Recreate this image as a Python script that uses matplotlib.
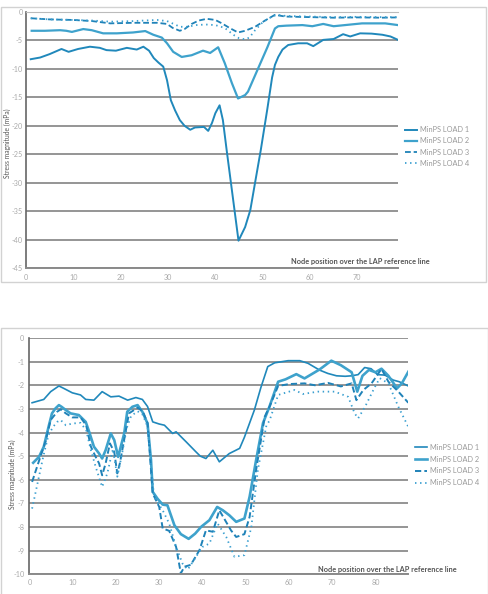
import matplotlib
matplotlib.use("Agg")
import matplotlib.pyplot as plt
from matplotlib.patches import Rectangle

plt.rcParams['font.family'] = ['Lato', 'DejaVu Sans']

labels = ["MinPS LOAD 1", "MinPS LOAD 2", "MinPS LOAD 3", "MinPS LOAD 4"]

# ---------------- top chart data ----------------
t1_x = [1, 3, 5, 7.5, 9, 11, 13.5, 15.6, 17, 19, 21.3, 23.4, 24.8, 26, 27, 28, 29, 29.8, 30.6, 31.5,
        32.5, 33.5, 34.7, 35.7, 37.6, 38.5, 39.3, 40, 40.9, 41.6, 42.4, 44.9, 46.3, 47.4, 48.4, 49.6,
        51, 52, 52.6, 53.3, 54.2, 55.4, 57.5, 59.4, 60.7, 62.8, 65, 67, 68.5, 70.6, 73, 75.3, 77, 78.6]
t1_y = [-8.3, -8.0, -7.4, -6.5, -7.0, -6.5, -6.1, -6.3, -6.7, -6.8, -6.3, -6.6, -6.1, -6.8, -8.1, -8.9,
        -9.6, -12.0, -15.5, -17.3, -19.0, -20.0, -20.7, -20.3, -20.2, -20.9, -19.5, -17.8, -16.4, -19.0,
        -24.3, -40.2, -37.8, -34.8, -30.0, -24.3, -17.0, -11.5, -9.3, -7.9, -6.6, -5.8, -5.5, -5.5, -6.0,
        -4.9, -4.75, -3.9, -4.3, -3.75, -3.8, -4.0, -4.3, -4.9]

t2_x = [1.2, 4, 7.2, 8.5, 9.7, 12.1, 13.9, 16.3, 19.2, 22.6, 25.2, 26.9, 28.7, 29.8, 31.1, 32.9, 35,
        37.4, 38.9, 40.6, 42, 43.5, 44.8, 46.3, 46.9, 49, 51, 52.6, 53.3, 55, 58.4, 60.5, 62.8, 65,
        67.4, 71, 75.9, 78.6]
t2_y = [-3.3, -3.3, -3.2, -3.3, -3.5, -3.0, -3.2, -3.75, -3.75, -3.6, -3.35, -4.0, -4.5, -5.5, -7.0,
        -7.9, -7.6, -6.8, -7.2, -6.2, -9.0, -12.5, -15.2, -14.6, -14.0, -10.0, -6.2, -2.9, -2.5, -2.4,
        -2.3, -2.5, -2.1, -2.5, -2.3, -2.0, -2.0, -2.3]

t3_x = [1, 5, 10, 14, 17.8, 22.6, 27.7, 29.8, 31, 32.5, 33.5, 35, 36.5, 38.2, 40, 41.4, 43, 44.8, 46.3,
        48.4, 50.5, 52.6, 54.8, 60, 65, 70, 75, 78.6]
t3_y = [-1.1, -1.3, -1.4, -1.6, -2.0, -1.9, -1.9, -2.1, -2.8, -3.3, -3.0, -2.1, -1.5, -1.2, -1.4, -2.0,
        -2.8, -3.6, -3.3, -2.6, -1.5, -0.5, -0.8, -0.9, -1.0, -0.95, -1.0, -0.95]

t4_x = [1, 5, 10, 14, 17.8, 22.6, 25, 27.7, 29.8, 31.5, 32.5, 34, 36, 38, 40, 42, 43.8, 45, 46.3, 47.2,
        48.4, 50, 52, 53, 55, 60, 65, 70, 75, 78.6]
t4_y = [-1.1, -1.3, -1.4, -1.5, -1.7, -1.6, -1.5, -1.4, -1.6, -2.2, -2.6, -2.6, -2.3, -2.2, -2.3, -2.8,
        -4.0, -4.6, -4.8, -4.5, -3.2, -1.8, -0.8, -0.5, -0.7, -0.8, -0.9, -0.85, -0.9, -0.9]

# ---------------- bottom chart data ----------------
b1_x = [0.6, 3.3, 4.9, 6.8, 7.9, 9.9, 11.8, 13, 14.9, 16.8, 18.8, 20.7, 22.7, 24.6, 26.1, 27.3, 28.5,
        30, 31.2, 33.1, 33.9, 36.2, 38.5, 39.5, 40.8, 42.4, 43.9, 46.2, 48.6, 49.7, 52.0, 53.5, 55.1,
        56.7, 59.8, 62.5, 64.4, 67.1, 69, 71, 73, 74.5, 76, 77.5, 79, 80.5, 82.2, 84.1, 85.5, 87.6]
b1_y = [-2.74, -2.6, -2.27, -2.03, -2.13, -2.32, -2.41, -2.6, -2.63, -2.27, -2.49, -2.46, -2.63, -2.52,
        -2.6, -2.9, -3.55, -3.64, -3.69, -4.04, -3.97, -4.39, -4.82, -5.0, -5.1, -4.75, -5.24, -4.89,
        -4.67, -4.2, -3.05, -2.1, -1.21, -1.05, -0.96, -0.96, -1.07, -1.36, -1.5, -1.6, -1.62, -1.6,
        -1.55, -1.25, -1.3, -1.55, -1.57, -1.78, -1.85, -2.03]

b2_x = [0.85, 2.2, 3.3, 4.5, 5.2, 6.0, 6.8, 7.4, 8.4, 9.5, 11.4, 13, 13.8, 14.9, 16.1, 16.8, 17.6,
        18.8, 19.6, 20.5, 21.9, 22.6, 23.8, 25, 26.1, 27.3, 28.1, 28.5, 29.6, 30.8, 31.9, 33.5, 35,
        36.8, 38.3, 39.7, 41.6, 43.4, 44.7, 46.2, 47.8, 49.7, 50.9, 52.4, 54, 55.5, 57.5, 59.2, 61.7,
        63.6, 67.1, 69.8, 72, 74.5, 75.8, 77, 78.5, 80, 81.4, 83, 85, 86.1, 87.6]
b2_y = [-5.28, -5.03, -4.6, -3.69, -3.19, -2.98, -2.84, -2.91, -3.05, -3.19, -3.26, -3.55, -3.97, -4.6,
        -4.89, -5.1, -4.75, -4.04, -4.32, -5.03, -4.04, -3.12, -2.91, -2.84, -3.12, -3.62, -5.17, -6.51,
        -6.8, -7.05, -7.08, -7.92, -8.3, -8.5, -8.28, -7.99, -7.71, -7.15, -7.29, -7.5, -7.78, -7.64,
        -6.72, -5.17, -3.6, -2.9, -1.85, -1.75, -1.53, -1.71, -1.33, -0.96, -1.15, -1.45, -2.27, -1.6,
        -1.35, -1.45, -1.3, -1.6, -2.13, -1.92, -1.43]

b3_x = [0.6, 2.0, 3.7, 4.9, 6.4, 7.2, 8.4, 9.9, 11.8, 13.1, 14.2, 15.3, 16.1, 16.8, 17.6, 18.6, 19.6,
        20.3, 20.9, 22.0, 23.0, 25.0, 26.2, 27.3, 28.5, 30.0, 30.8, 32.3, 33.9, 35.0, 35.8, 37.3, 39.3,
        40.8, 42.4, 43.9, 46.6, 47.8, 49.7, 50.9, 52.4, 54.4, 55.5, 57.5, 60, 63.6, 66, 69, 72, 74.5,
        75.6, 77.2, 79.1, 81.4, 83, 85.3, 87.6]
b3_y = [-6.09, -5.31, -4.39, -3.47, -3.12, -3.02, -3.19, -3.36, -3.36, -3.69, -4.6, -5.03, -5.31, -5.81,
        -5.31, -4.46, -4.82, -5.73, -5.3, -4.2, -3.19, -2.95, -3.1, -3.6, -6.58, -7.15, -8.06, -8.16,
        -8.84, -9.96, -9.68, -9.6, -8.98, -8.14, -8.2, -7.29, -8.14, -8.42, -8.3, -7.57, -5.59, -3.33,
        -2.91, -2.03, -1.95, -1.92, -2.0, -1.9, -2.05, -1.92, -2.63, -2.2, -1.92, -1.31, -1.85, -2.27,
        -2.74]

b4_x = [0.6, 1.8, 3.2, 4.4, 5.5, 6.4, 7.2, 8.4, 9.9, 11.8, 13.1, 14.2, 15.3, 16.8, 18.0, 18.8, 19.3,
        20.3, 21.3, 22.5, 23.5, 25.0, 26.2, 27.3, 28.8, 30.8, 32.3, 33.9, 35.4, 36.6, 38.5, 40.0, 41.6,
        43.5, 45.5, 47.4, 49.7, 51.3, 52.8, 54.8, 55.5, 57.5, 61.3, 63.2, 66.7, 70.6, 73.7, 75.2, 76.0,
        77.6, 79.9, 81.0, 83.0, 85.3, 87.6]
b4_y = [-7.22, -6.2, -5.0, -4.1, -3.75, -3.55, -3.47, -3.69, -3.62, -3.59, -3.9, -4.75, -5.45, -6.3,
        -5.73, -5.08, -4.7, -5.87, -5.0, -3.8, -3.3, -3.1, -3.25, -3.75, -6.72, -7.29, -7.85, -8.84,
        -9.55, -9.8, -9.26, -8.84, -8.7, -7.85, -8.42, -9.26, -9.19, -8.0, -5.59, -3.69, -3.5, -2.41,
        -2.2, -2.37, -2.27, -2.27, -2.49, -3.19, -3.4, -2.91, -2.06, -1.7, -1.92, -2.91, -3.76]

top_yticks = [0, -5, -10, -15, -20, -25, -30, -35, -40, -45]
top_xticks = [0, 10, 20, 30, 40, 50, 60, 70]
bot_yticks = [0, -1, -2, -3, -4, -5, -6, -7, -8, -9, -10]
bot_xticks = [0, 10, 20, 30, 40, 50, 60, 70, 80]

W, H = 489, 594
fig = plt.figure(figsize=(W / 100, H / 100), dpi=100)

def fx(px):
    return px / W

def fy(py):
    return 1 - py / H

# panel frames
fig.patches.append(Rectangle((fx(1), fy(282)), fx(485), 275 / H, transform=fig.transFigure,
                             fill=False, edgecolor='#d2d2d2', lw=1.0))
fig.patches.append(Rectangle((fx(1), fy(600)), fx(487), 272 / H, transform=fig.transFigure,
                             fill=False, edgecolor='#d2d2d2', lw=1.0))

c1 = '#2088bb'
c2 = '#3ea2cc'
c3 = '#1f82b8'
c4 = '#3a9fd0'

def style(ax, xlim, ylim, xt, yt, xpad, ypad):
    ax.set_xlim(*xlim)
    ax.set_ylim(*ylim)
    ax.set_xticks(xt)
    ax.set_yticks(yt)
    ax.set_xticklabels([str(v) for v in xt])
    ax.set_yticklabels([str(v) for v in yt])
    for s in ['top', 'right']:
        ax.spines[s].set_visible(False)
    ax.spines['left'].set_color('#666666')
    ax.spines['left'].set_linewidth(1.2)
    ax.spines['bottom'].set_color('#8a8a8a')
    ax.spines['bottom'].set_linewidth(1.4)
    ax.tick_params(axis='both', length=0, labelsize=5.2, labelcolor='#aaaaaa')
    ax.tick_params(axis='x', pad=xpad)
    ax.tick_params(axis='y', pad=ypad)
    ax.yaxis.grid(True, color='#8c8c8c', lw=1.3)
    ax.set_axisbelow(True)
    for lbl in ax.get_yticklabels():
        lbl.set_clip_on(False)

# ---------------- top axes ----------------
ax1 = fig.add_axes([fx(26), fy(268), fx(398 - 26), (268 - 12) / H])
style(ax1, (0, 78.6), (-45, 0), top_xticks, top_yticks, 4.5, 2.5)
ax1.spines['top'].set_visible(True)
ax1.spines['top'].set_color('#bbbbbb')
ax1.spines['top'].set_linewidth(0.8)
h1, = ax1.plot(t1_x, t1_y, color=c1, lw=1.4, solid_joinstyle='round')
h2, = ax1.plot(t2_x, t2_y, color=c2, lw=1.6, solid_joinstyle='round')
h3, = ax1.plot(t3_x, t3_y, color=c3, lw=1.3, dashes=(3.2, 1.6))
h4, = ax1.plot(t4_x, t4_y, color=c4, lw=1.3, dashes=(0.8, 2.0))
ax1.legend([h1, h2, h3, h4], labels, loc='center left',
           bbox_to_anchor=(fx(405), fy(146.5)), bbox_transform=fig.transFigure,
           frameon=False, fontsize=5.3, labelcolor='#999999', handlelength=1.6,
           handletextpad=0.5, labelspacing=0.55, borderpad=0, borderaxespad=0)
fig.text(fx(360), fy(261), "Node position over the LAP reference line", ha='center', va='center',
         fontsize=5.3, color='#555555', fontweight='bold')
fig.text(fx(7), fy(143.5), "Stress magnitude (mPa)", rotation=90, ha='center', va='center',
         fontsize=4.9, color='#555555')

# ---------------- bottom axes ----------------
ax2 = fig.add_axes([fx(29.5), fy(574.3), fx(408.3 - 29.5), (574.3 - 338) / H])
style(ax2, (0, 87.6), (-10, 0), bot_xticks, bot_yticks, 3.5, 3.6)
g1, = ax2.plot(b1_x, b1_y, color=c1, lw=1.2, solid_joinstyle='round')
g2, = ax2.plot(b2_x, b2_y, color=c2, lw=1.9, solid_joinstyle='round')
g3, = ax2.plot(b3_x, b3_y, color=c3, lw=1.4, dashes=(3.2, 1.6))
g4, = ax2.plot(b4_x, b4_y, color=c4, lw=1.3, dashes=(0.8, 2.0))
ax2.legend([g1, g2, g3, g4], labels, loc='center left',
           bbox_to_anchor=(fx(415), fy(465)), bbox_transform=fig.transFigure,
           frameon=False, fontsize=5.3, labelcolor='#999999', handlelength=1.6,
           handletextpad=0.45, labelspacing=0.65, borderpad=0, borderaxespad=0)
fig.text(fx(387.5), fy(569.3), "Node position over the LAP reference line", ha='center', va='center',
         fontsize=5.3, color='#555555', fontweight='bold')
fig.text(fx(12), fy(474), "Stress magnitude (mPa)", rotation=90, ha='center', va='center',
         fontsize=4.9, color='#555555')

fig.savefig("out.png", dpi=100)
